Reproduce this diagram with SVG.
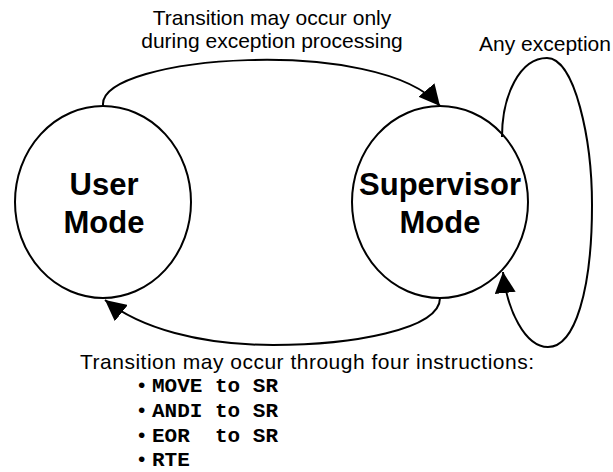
<svg xmlns="http://www.w3.org/2000/svg" width="613" height="472" viewBox="0 0 613 472">
<style>
.node{fill:#fff;stroke:#000;stroke-width:2}
.edge{fill:none;stroke:#000;stroke-width:2}
.lbl{font-family:"Liberation Sans",Arial,sans-serif;font-size:21px;fill:#000}
.nl{font-family:"Liberation Sans",Arial,sans-serif;font-size:31px;font-weight:bold;fill:#000;text-anchor:middle}
.code{font-family:"Liberation Mono","Courier New",monospace;font-size:21px;font-weight:bold;fill:#000;white-space:pre}
</style>
<defs>
<marker id="ah" viewBox="0 0 21 21" refX="21" refY="10.5" markerWidth="21" markerHeight="21" markerUnits="userSpaceOnUse" orient="auto">
<path d="M0,0 L21,10.5 L0,21 z" fill="#000"/>
</marker>
</defs>
<rect width="613" height="472" fill="#fff"/>
<g id="user">
<ellipse class="node" cx="103" cy="202" rx="88" ry="96"/>
<text class="nl" x="104" y="195">User</text>
<text class="nl" x="104" y="233">Mode</text>
</g>
<g id="supervisor">
<ellipse class="node" cx="440" cy="202" rx="88" ry="96"/>
<text class="nl" x="440" y="195">Supervisor</text>
<text class="nl" x="440" y="233">Mode</text>
</g>
<g id="connectors">
<path class="edge" d="M103,105 C100,55 380,35 440,106" marker-end="url(#ah)"/>
<path class="edge" d="M440,298 C440,330 350,345 273,345 C200,345 140,328 105,300" marker-end="url(#ah)"/>
<path class="edge" d="M502,137 C502,95 520,58 547,58 C575,58 592,140 592,205 C592,290 575,347 548,347 C525,347 507,310 503,272" marker-end="url(#ah)"/>
</g>
<g id="labels">
<text class="lbl" x="272" y="25" text-anchor="middle">Transition may occur only</text>
<text class="lbl" x="272" y="48" text-anchor="middle">during exception processing</text>
<text class="lbl" x="479" y="51">Any exception</text>
<text class="lbl" x="80" y="369" textLength="454" lengthAdjust="spacing">Transition may occur through four instructions:</text>
<text class="lbl" x="138" y="392">•</text>
<text class="code" x="152" y="392">MOVE to SR</text>
<text class="lbl" x="138" y="417">•</text>
<text class="code" x="152" y="417">ANDI to SR</text>
<text class="lbl" x="138" y="442">•</text>
<text class="code" x="152" y="442" xml:space="preserve">EOR  to SR</text>
<text class="lbl" x="138" y="466">•</text>
<text class="code" x="152" y="466">RTE</text>
</g>
</svg>
